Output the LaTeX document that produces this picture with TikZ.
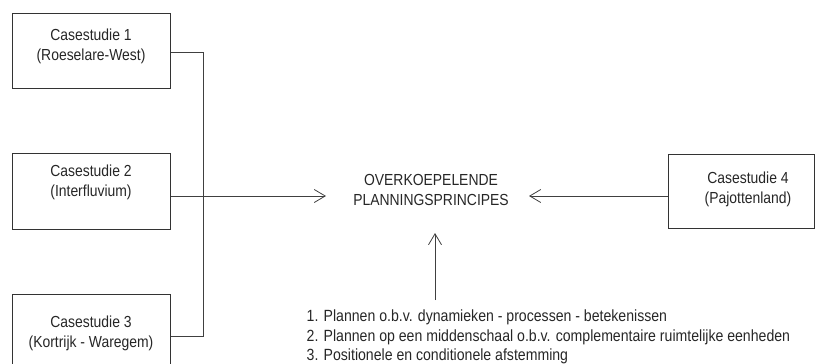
\documentclass[tikz,border=0pt]{standalone}
\usepackage{fontspec}
\setmainfont{Liberation Sans}[FakeStretch=0.87]
\usetikzlibrary{arrows.meta}
\begin{document}
\begin{tikzpicture}[x=1pt,y=-1pt,
  casebox/.style={draw=black!80,line width=1pt,rectangle,anchor=north west,inner sep=0pt},
  casetext/.style={align=center,font=\fontsize{16}{20}\selectfont,text=black!85,inner sep=0pt},
  link/.style={draw=black!75,line width=0.8pt},
  openarrow/.style={link,-{Straight Barb[length=11pt,width=13pt,line width=0.8pt]}}]
  \useasboundingbox (0,0) rectangle (815,364);
  \clip (0,0) rectangle (815,364);

  % case study boxes
  \node[casebox,minimum width=158pt,minimum height=75pt] (c1) at (12,12.5) {};
  \node[casebox,minimum width=158pt,minimum height=76pt] (c2) at (12,153) {};
  \node[casebox,minimum width=158pt,minimum height=76pt] (c3) at (12,294) {};
  \node[casebox,minimum width=146pt,minimum height=74pt] (c4) at (668,154) {};

  \node[casetext] (t1) at (91,46.5) {Casestudie 1\\(Roeselare-West)};
  \node[casetext] (t2) at (91,182) {Casestudie 2\\(Interfluvium)};
  \node[casetext] (t3) at (91,333) {Casestudie 3\\(Kortrijk - Waregem)};
  \node[casetext] (t4) at (748,189.5) {Casestudie 4\\(Pajottenland)};

  % central principles
  \node[casetext] (main) at (431,189.5) {OVERKOEPELENDE\\PLANNINGSPRINCIPES};

  % list of principles
  \node[align=left,anchor=north west,inner sep=0pt,text=black!85,
        font=\fontsize{16.2}{19.5}\selectfont] (list) at (306.5,310) {%
    1. Plannen o.b.v. dynamieken - processen - betekenissen\\
    2. Plannen op een middenschaal o.b.v. complementaire ruimtelijke eenheden\\
    3. Positionele en conditionele afstemming};

  % connector junctions
  \coordinate (j1) at (203,52.7);
  \coordinate (j2) at (203,196);
  \coordinate (j3) at (203,336);
  \coordinate (tipL) at (326,196);
  \coordinate (tipR) at (529,196);
  \coordinate (tipU) at (435,233);
  \coordinate (foot) at (435,300);

  \draw[link] (c1.east |- j1) -- (j1) -- (j3) -- (c3.east |- j3);
  \draw[openarrow] (c2.east |- j2) -- (tipL);
  \draw[openarrow] (c4.west |- tipR) -- (tipR);
  \draw[openarrow] (foot) -- (tipU);
\end{tikzpicture}
\end{document}
